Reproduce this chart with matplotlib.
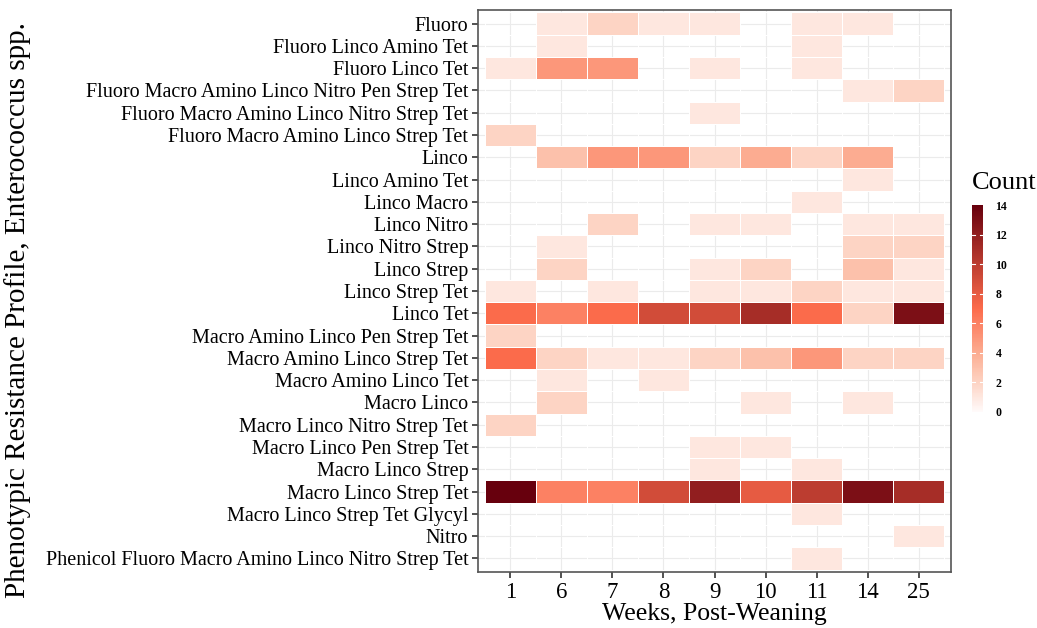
import numpy as np
import matplotlib
matplotlib.use('agg')
import matplotlib.pyplot as plt
from matplotlib.colors import LinearSegmentedColormap

plt.rcParams['font.family'] = ['Liberation Serif', 'DejaVu Serif']

# data
weeks = ['1', '6', '7', '8', '9', '10', '11', '14', '25']
profiles = [
    'Fluoro',
    'Fluoro Linco Amino Tet',
    'Fluoro Linco Tet',
    'Fluoro Macro Amino Linco Nitro Pen Strep Tet',
    'Fluoro Macro Amino Linco Nitro Strep Tet',
    'Fluoro Macro Amino Linco Strep Tet',
    'Linco',
    'Linco Amino Tet',
    'Linco Macro',
    'Linco Nitro',
    'Linco Nitro Strep',
    'Linco Strep',
    'Linco Strep Tet',
    'Linco Tet',
    'Macro Amino Linco Pen Strep Tet',
    'Macro Amino Linco Strep Tet',
    'Macro Amino Linco Tet',
    'Macro Linco',
    'Macro Linco Nitro Strep Tet',
    'Macro Linco Pen Strep Tet',
    'Macro Linco Strep',
    'Macro Linco Strep Tet',
    'Macro Linco Strep Tet Glycyl',
    'Nitro',
    'Phenicol Fluoro Macro Amino Linco Nitro Strep Tet',
]
counts = [
    [0, 1, 2, 1, 1, 0, 1, 1, 0],
    [0, 1, 0, 0, 0, 0, 1, 0, 0],
    [1, 5, 5, 0, 1, 0, 1, 0, 0],
    [0, 0, 0, 0, 0, 0, 0, 1, 2],
    [0, 0, 0, 0, 1, 0, 0, 0, 0],
    [2, 0, 0, 0, 0, 0, 0, 0, 0],
    [0, 3, 5, 5, 2, 4, 2, 4, 0],
    [0, 0, 0, 0, 0, 0, 0, 1, 0],
    [0, 0, 0, 0, 0, 0, 1, 0, 0],
    [0, 0, 2, 0, 1, 1, 0, 1, 1],
    [0, 1, 0, 0, 0, 0, 0, 2, 2],
    [0, 2, 0, 0, 1, 2, 0, 3, 1],
    [1, 0, 1, 0, 1, 1, 2, 1, 1],
    [7, 6, 7, 9, 9, 11, 7, 2, 13],
    [2, 0, 0, 0, 0, 0, 0, 0, 0],
    [7, 2, 1, 1, 2, 3, 5, 2, 2],
    [0, 1, 0, 1, 0, 0, 0, 0, 0],
    [0, 2, 0, 0, 0, 1, 0, 1, 0],
    [2, 0, 0, 0, 0, 0, 0, 0, 0],
    [0, 0, 0, 0, 1, 1, 0, 0, 0],
    [0, 0, 0, 0, 1, 0, 1, 0, 0],
    [14, 6, 6, 9, 12, 8, 10, 13, 11],
    [0, 0, 0, 0, 0, 0, 1, 0, 0],
    [0, 0, 0, 0, 0, 0, 0, 0, 1],
    [0, 0, 0, 0, 0, 0, 1, 0, 0],
]

z = np.ma.masked_equal(np.array(counts, dtype=float), 0)

# white -> salmon -> dark red, like the reference gradient
cmap = LinearSegmentedColormap.from_list(
    'count', [(0, '#fffafa'), (0.14, '#fdd4c4'), (0.28, '#fcae93'),
              (0.5, '#fc6b4b'), (1.0, '#67000d')])

fig = plt.figure(figsize=(10.37, 6.28), dpi=100)
ax = fig.add_axes([478/1037, 1 - 572/628, 473/1037, 562/628])

# faint panel grid behind the tiles
for i in range(len(profiles)):
    ax.axhline(i, color='#ebebeb', lw=0.8, zorder=0)
for j in range(len(weeks)):
    ax.axvline(j, color='#ebebeb', lw=0.8, zorder=0)

xe = np.arange(len(weeks) + 1) - 0.5
ye = np.arange(len(profiles) + 1) - 0.5
mesh = ax.pcolormesh(xe, ye, z, cmap=cmap, vmin=0, vmax=14,
                     edgecolor='white', linewidth=0.6, zorder=1)

ax.set_xlim(-0.63, len(weeks) - 0.37)
ax.set_ylim(len(profiles) - 0.39, -0.61)
ax.set_xticks(range(len(weeks)))
ax.set_xticklabels(weeks, fontsize=16.5)
ax.set_yticks(range(len(profiles)))
ax.set_yticklabels(profiles, fontsize=14.5)
ax.tick_params(axis='both', length=4, width=1.2, color='#333333', pad=3)
for s in ax.spines.values():
    s.set_color('#555555')
    s.set_linewidth(1.2)

ax.set_xlabel('Weeks, Post-Weaning', fontsize=18.5, labelpad=0)
fig.text(18/1037, 1 - 310/628, 'Phenotypic Resistance Profile, Enterococcus spp.',
         rotation=90, fontsize=21, ha='center', va='center')

# colourbar
cax = fig.add_axes([972/1037, 1 - 412/628, 11/1037, 207/628])
cb = fig.colorbar(mesh, cax=cax, ticks=range(0, 15, 2))
cb.outline.set_visible(False)
cb.ax.tick_params(length=0, labelsize=8.5, pad=9)
for t in cb.ax.get_yticklabels():
    t.set_fontweight('bold')
for v in range(2, 14, 2):
    cax.axhline(v, color='white', lw=0.8, xmin=0, xmax=0.3)
    cax.axhline(v, color='white', lw=0.8, xmin=0.7, xmax=1)
fig.text(1004/1037, 1 - 183/628, 'Count', fontsize=19, ha='center', va='center')

plt.savefig('out.png', dpi=100)
